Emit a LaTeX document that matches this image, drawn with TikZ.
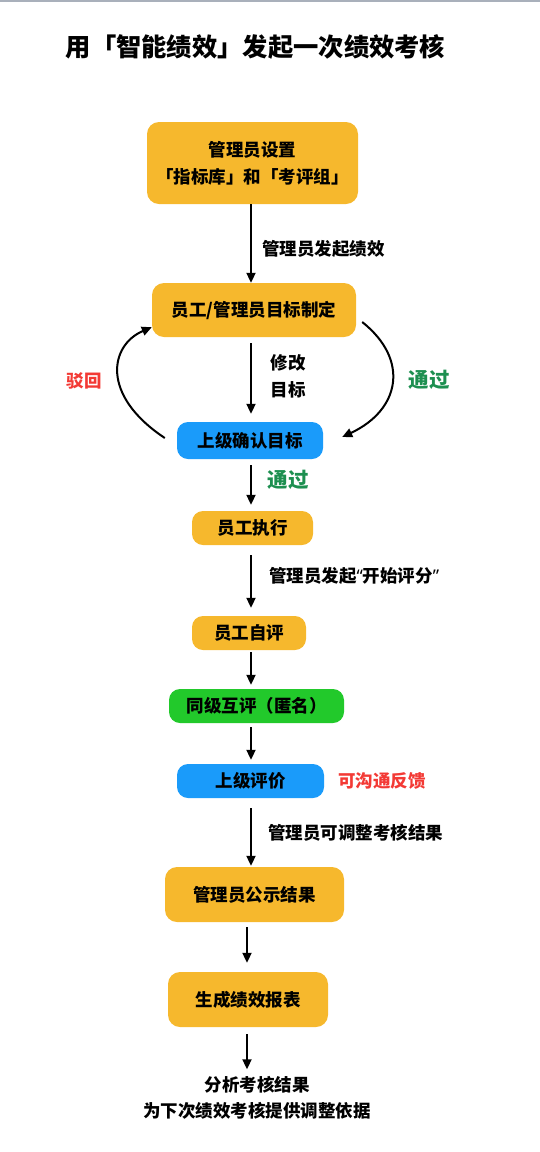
\documentclass[tikz,border=0pt]{standalone}
\usepackage{fontspec}
\setmainfont{Noto Sans CJK SC}
\newfontfamily\latinf{Noto Sans}
\usetikzlibrary{arrows.meta,calc}
\definecolor{cOrange}{HTML}{F6B82D}
\definecolor{cBlue}{HTML}{1A9BFA}
\definecolor{cGreen}{HTML}{22C92B}
\definecolor{cRed}{HTML}{F33A35}
\definecolor{cPass}{HTML}{1D8F50}
\definecolor{cTop}{HTML}{A9B0BB}
\begin{document}
\begin{tikzpicture}[x=1pt,y=-1pt,
  box/.style={rounded corners=12pt,inner sep=0pt,align=center,font=\fontsize{17.5}{27}\selectfont\bfseries},
  obox/.style={box,fill=cOrange},
  bbox/.style={box,fill=cBlue},
  gbox/.style={box,fill=cGreen},
  lbl/.style={font=\fontsize{17.5}{27}\selectfont\bfseries,inner sep=0pt,align=center},
  pass/.style={lbl,text=cPass,font=\fontsize{20.5}{24}\selectfont\bfseries},
  arr/.style={line width=2pt,-{Triangle[length=10pt,width=9pt]}}
]
\useasboundingbox (0,0) rectangle (540,1152);
\draw[cTop,line width=1.5pt] (0,0.75) -- (540,0.75);
\node[font=\fontsize{25.3}{28}\selectfont\bfseries,inner sep=0pt] (title) at (255.5,47) {用「智能绩效」发起一次绩效考核};

\node[obox,minimum width=211pt,minimum height=82pt] (b1) at (252.5,163) {管理员设置\\「指标库」和「考评组」};
\node[obox,minimum width=204pt,minimum height=54pt] (b2) at (254,310) {员工/管理员目标制定};
\node[bbox,minimum width=146pt,minimum height=37pt,rounded corners=11pt] (b3) at (250,440.5) {上级确认目标};
\node[obox,minimum width=121pt,minimum height=34pt,rounded corners=11pt] (b4) at (252.5,528) {员工执行};
\node[obox,minimum width=114pt,minimum height=34pt,rounded corners=11pt] (b5) at (249,633) {员工自评};
\node[gbox,minimum width=175pt,minimum height=34pt,rounded corners=11pt] (b6) at (256.5,706) {同级互评（匿名）};
\node[bbox,minimum width=147pt,minimum height=34pt,rounded corners=11pt] (b7) at (250.5,781) {上级评价};
\node[obox,minimum width=179pt,minimum height=55pt] (b8) at (254.5,894.5) {管理员公示结果};
\node[obox,minimum width=160pt,minimum height=55pt] (b9) at (248,999.5) {生成绩效报表};
\node[lbl,font=\fontsize{17.5}{26}\selectfont\bfseries] (fin) at (257,1098) {分析考核结果\\为下次绩效考核提供调整依据};

\coordinate (ax) at (251,0);
\coordinate (ay) at (247,0);
\draw[arr] (b1.south -| ax) -- (b2.north -| ax);
\draw[arr,shorten <=6pt,shorten >=8pt] (b2.south -| ax) -- (b3.north -| ax);
\draw[arr,shorten <=6pt,shorten >=6pt] (b3.south -| ax) -- (b4.north -| ax);
\draw[arr,shorten <=10pt,shorten >=8pt] (b4.south -| ax) -- (b5.north -| ax);
\draw[arr,shorten <=2pt,shorten >=4pt] (b5.south -| ax) -- (b6.north -| ax);
\draw[arr,shorten <=4pt,shorten >=4pt] (b6.south -| ax) -- (b7.north -| ax);
\draw[arr,shorten <=10pt,shorten >=1pt] (b7.south -| ax) -- (b8.north -| ax);
\draw[arr,shorten <=5pt,shorten >=9pt] (b8.south -| ay) -- (b9.north -| ay);
\draw[arr,shorten <=7pt,shorten >=7pt] (b9.south -| ay) -- (fin.north -| ay);

\draw[arr] ($(b3.west)+(-12,-2.5)$) .. controls (100,395) and (110,345) .. ($(b2.south west)+(0,-10)$);
\draw[arr] ($(b2.east)+(6,12)$) .. controls (410,360) and (400,410) .. ($(b3.east)+(19,-3.5)$);

\node[lbl,anchor=west] (l1) at (262,249) {管理员发起绩效};
\node[lbl] (l2) at (288,376) {修改\\目标};
\node[lbl,text=cRed] (l3) at (84,381) {驳回};
\node[pass] (l4) at (429,380) {通过};
\node[pass] (l5) at (288,480) {通过};
\node[lbl,anchor=west] (l6) at (269,576) {管理员发起{\latinf\bfseries“}开始评分{\latinf\bfseries”}};
\node[lbl,anchor=west,text=cRed] (l7) at (338,781) {可沟通反馈};
\node[lbl,anchor=west] (l8) at (268,833) {管理员可调整考核结果};
\end{tikzpicture}
\end{document}
